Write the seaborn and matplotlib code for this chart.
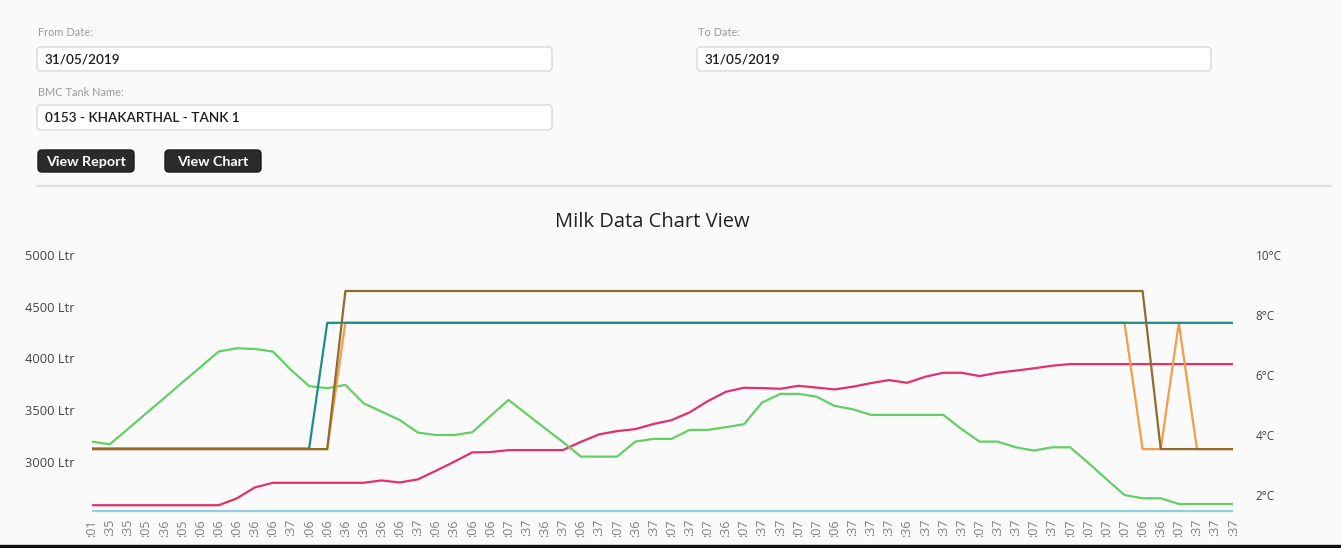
import numpy as np
import matplotlib.pyplot as plt
from matplotlib.patches import FancyBboxPatch
import seaborn as sns

# Reading times along the x axis: only the minute part is readable in the
# reference, so that is what is shown
time_labels = [
    ":01", ":35", ":35", ":05", ":36", ":05", ":06", ":06",
    ":06", ":36", ":06", ":37", ":06", ":06", ":36", ":36",
    ":36", ":06", ":37", ":06", ":36", ":06", ":06", ":07",
    ":37", ":36", ":37", ":06", ":37", ":07", ":36", ":37",
    ":07", ":37", ":07", ":36", ":07", ":37", ":37", ":07",
    ":07", ":06", ":37", ":37", ":37", ":36", ":37", ":37",
    ":37", ":07", ":37", ":37", ":07", ":37", ":07", ":07",
    ":07", ":07", ":06", ":36", ":07", ":37", ":37", ":37",
]

# left axis (Ltr)
milk_qty_ltr = ([2580] * 8 + [2645, 2752] + [2797] * 6
                + [2820, 2800, 2830, 2913, 3000, 3091, 3094] + [3113] * 4
                + [3193, 3265, 3297, 3316, 3365, 3403, 3478, 3587, 3677, 3716,
                   3713, 3706, 3735, 3718, 3700, 3726, 3761, 3790, 3764, 3822,
                   3861, 3861, 3829, 3861, 3882, 3904, 3929]
                + [3945] * 10)

# right axis (deg C)
milk_temp_c = [
    3.78, 3.69, 4.20, 4.72, 5.23, 5.75, 6.26, 6.78, 6.89, 6.87,
    6.78, 6.17, 5.63, 5.56, 5.67, 5.06, 4.78, 4.50, 4.08, 4.00,
    4.00, 4.09, 4.63, 5.17, 4.70, 4.23, 3.77, 3.28, 3.28, 3.28,
    3.78, 3.87, 3.87, 4.17, 4.17, 4.26, 4.36, 5.08, 5.37, 5.37,
    5.28, 4.97, 4.86, 4.67, 4.67, 4.67, 4.67, 4.67, 4.20, 3.78,
    3.78, 3.59, 3.48, 3.59, 3.59, 3.07, 2.53, 2.00, 1.89, 1.89,
    1.70, 1.70, 1.70, 1.70,
]
teal_c = [3.55] * 13 + [7.74] * 51
brown_c = [3.53] * 14 + [8.80] * 45 + [3.53] * 5
orange_c = [3.53] * 14 + [7.74] * 44 + [3.53] * 2 + [7.74] + [3.53] * 3
blue_c = [1.47] * 64

x = np.arange(len(time_labels))

sns.set_style("white")
plt.rcParams['font.family'] = ['Open Sans', 'DejaVu Sans']

W, H = 1341, 548
fig = plt.figure(figsize=(W / 100, H / 100), dpi=100)
fig.patch.set_facecolor('#fafafa')

# page background / form, drawn in pixel coordinates
bg = fig.add_axes([0, 0, 1, 1], zorder=0)
bg.set_xlim(0, W)
bg.set_ylim(H, 0)
bg.axis('off')

form_font = ['Lato', 'DejaVu Sans']


def input_box(x0, x1, y0, y1, text):
    bg.add_patch(FancyBboxPatch((x0, y0), x1 - x0, y1 - y0,
                                boxstyle="round,pad=0,rounding_size=4",
                                facecolor='white', edgecolor='#d9d9d9', lw=1))
    bg.text(x0 + 8, (y0 + y1) / 2 + 1, text, fontsize=9.8, color='#1e1e1e',
            fontweight='semibold', va='center', ha='left', family=form_font)


def button(x0, x1, y0, y1, text):
    bg.add_patch(FancyBboxPatch((x0, y0), x1 - x0, y1 - y0,
                                boxstyle="round,pad=0,rounding_size=4",
                                facecolor='#2b2b2b', edgecolor='#1a1a1a', lw=1))
    bg.text((x0 + x1) / 2, (y0 + y1) / 2 + 1, text, fontsize=10.3, color='white',
            fontweight='bold', va='center', ha='center', family=form_font)


bg.text(38, 33, "From Date:", fontsize=7.9, color='#9a9a9a', va='center', family=form_font)
input_box(37, 552, 47, 71, "31/05/2019")
bg.text(698, 33, "To Date:", fontsize=7.9, color='#9a9a9a', va='center', family=form_font)
input_box(697, 1211, 47, 71, "31/05/2019")
bg.text(38, 92, "BMC Tank Name:", fontsize=7.9, color='#9a9a9a', va='center', family=form_font)
input_box(37, 552, 105, 130, "0153 - KHAKARTHAL - TANK 1")
button(38, 134, 150, 172, "View Report")
button(165, 261, 150, 172, "View Chart")
bg.plot([37, 1331], [186, 186], color='#dedede', lw=1.5)

bg.text(652, 222, "Milk Data Chart View", fontsize=14.5, color='#222222',
        ha='center', va='center')

# chart
left, right, top, bottom = 91.7, 1233.2, 255, 513.5
ax = fig.add_axes([left / W, 1 - bottom / H, (right - left) / W, (bottom - top) / H],
                  zorder=1)
ax.set_facecolor('none')
ax2 = ax.twinx()

sns.lineplot(x=x, y=milk_qty_ltr, ax=ax, color='#e3306a', linewidth=1.6)

sns.lineplot(x=x, y=blue_c, ax=ax2, color='#8ecfe0', linewidth=1.6)
sns.lineplot(x=x, y=milk_temp_c, ax=ax2, color='#62d062', linewidth=1.6)
sns.lineplot(x=x, y=orange_c, ax=ax2, color='#f39c4a', linewidth=1.6)
sns.lineplot(x=x, y=teal_c, ax=ax2, color='#1d8c8c', linewidth=1.6)
sns.lineplot(x=x, y=brown_c, ax=ax2, color='#8f6b2c', linewidth=1.6)

ax.set_xlim(0, len(x) - 1)
ax.set_ylim(2500, 5000)
ax2.set_ylim(10 - (bottom - top) / 30, 10)

ax.set_yticks([3000, 3500, 4000, 4500, 5000])
ax.set_yticklabels([f"{v} Ltr" for v in [3000, 3500, 4000, 4500, 5000]])
ax2.set_yticks([2, 4, 6, 8, 10])
ax2.set_yticklabels([f"{v}°C" for v in [2, 4, 6, 8, 10]])
ax.set_xticks(x)
ax.set_xticklabels(time_labels, rotation=90)

ax.tick_params(axis='y', length=0, pad=12, labelsize=9.3, labelcolor='#444444')
ax2.tick_params(axis='y', length=0, pad=16, labelsize=8.5, labelcolor='#444444')
ax.tick_params(axis='x', length=0, pad=4, labelsize=9, labelcolor='#808080')
for a in (ax, ax2):
    for s in a.spines.values():
        s.set_visible(False)
    a.set_xlabel('')
    a.set_ylabel('')

# dark edge at the bottom of the screenshot
bg2 = fig.add_axes([0, 0, 1, 1], zorder=3)
bg2.set_xlim(0, W)
bg2.set_ylim(H, 0)
bg2.axis('off')
bg2.add_patch(plt.Rectangle((0, 544.5), W, 4, color='#111111'))

fig.savefig('out.png', dpi=100, facecolor=fig.get_facecolor())
